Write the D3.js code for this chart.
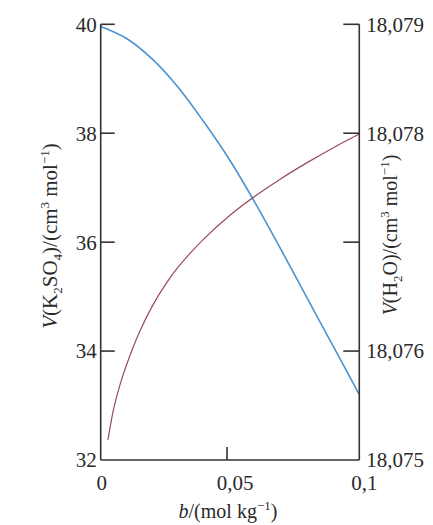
<!DOCTYPE html>
<html><head><meta charset="utf-8">
<script src="https://cdn.jsdelivr.net/npm/d3@7"></script>
<style>
html,body{margin:0;padding:0;background:#fff;}
svg text{font-family:"Liberation Serif","Times New Roman",Times,serif;fill:#2a2a2a;}
</style></head>
<body><svg id="c" width="433" height="525"></svg>
<script>
// b / (mol kg^-1)
const bluesB = [0, 0.01, 0.02, 0.03, 0.04, 0.05, 0.06, 0.07, 0.08, 0.09, 0.1];
// V(H2O) / (cm3 mol-1), right axis
const bluesV = [18.07898, 18.07887, 18.07868, 18.07842, 18.07810, 18.07775, 18.07735, 18.07692, 18.07648, 18.07604, 18.07560];
const redsB = [0.0028, 0.005, 0.0075, 0.01, 0.015, 0.02, 0.025, 0.03, 0.04, 0.05, 0.06, 0.07, 0.08, 0.09, 0.1];
// V(K2SO4) / (cm3 mol-1), left axis
const redsV = [32.37, 32.94, 33.39, 33.75, 34.35, 34.83, 35.22, 35.545, 36.065, 36.495, 36.855, 37.175, 37.465, 37.735, 37.985];

const xTicks = [0, 0.05, 0.1];
const xTickLabels = ["0", "0,05", "0,1"];
const leftTicks = [32, 34, 36, 38, 40];
const rightTicks = [18.075, 18.076, 18.077, 18.078, 18.079];
const rightTickLabels = ["18,075", "18,076", "", "18,078", "18,079"];

const svg = d3.select("#c");
const x = d3.scaleLinear().domain([0, 0.1]).range([100.7, 359.3]);
const yL = d3.scaleLinear().domain([32, 40]).range([460, 24.3]);
const yR = d3.scaleLinear().domain([18.075, 18.079]).range([460, 24.3]);

const axisColor = "#333";

// curves
const lineBlue = d3.line().x((d,i)=>x(bluesB[i])).y(d=>yR(d)).curve(d3.curveCatmullRom.alpha(0.5));
const lineRed = d3.line().x((d,i)=>x(redsB[i])).y(d=>yL(d)).curve(d3.curveCatmullRom.alpha(0.5));
svg.append("path").attr("d", lineBlue(bluesV)).attr("fill","none").attr("stroke","#4a93d2").attr("stroke-width",1.6);
svg.append("path").attr("d", lineRed(redsV)).attr("fill","none").attr("stroke","#9a4a5a").attr("stroke-width",1.2);

// axes frame
const g = svg.append("g").attr("stroke", axisColor).attr("stroke-width", 1.6);
g.append("line").attr("x1", x(0)).attr("x2", x(0)).attr("y1", yL(40)).attr("y2", yL(32));
g.append("line").attr("x1", x(0.1)).attr("x2", x(0.1)).attr("y1", yR(18.079)).attr("y2", yR(18.075));
g.append("line").attr("x1", x(0)).attr("x2", x(0.1)).attr("y1", yL(32)).attr("y2", yL(32));

// left ticks (inward)
leftTicks.forEach(v => {
  if (v !== 32) g.append("line").attr("x1", x(0)).attr("x2", x(0)+14).attr("y1", yL(v)).attr("y2", yL(v));
  svg.append("text").attr("x", x(0)-4).attr("y", yL(v)).attr("dy","0.35em")
    .attr("text-anchor","end").attr("font-size",21).text(v);
});
// right ticks (inward)
rightTicks.forEach((v,i) => {
  if (i !== 0) g.append("line").attr("x1", x(0.1)-16).attr("x2", x(0.1)).attr("y1", yR(v)).attr("y2", yR(v));
  if (rightTickLabels[i]) svg.append("text").attr("x", x(0.1)+7).attr("y", yR(v)).attr("dy","0.35em")
    .attr("text-anchor","start").attr("font-size",21).text(rightTickLabels[i]);
});
// x ticks
xTicks.forEach((v,i) => {
  if (v > 0 && v < 0.1) g.append("line").attr("x1", x(v)-3).attr("x2", x(v)-3).attr("y1", yL(32)).attr("y2", yL(32)-13);
  svg.append("text").attr("x", x(v) + (i===0?1:5)).attr("y", 490)
    .attr("text-anchor","middle").attr("font-size",21).text(xTickLabels[i]);
});

// x axis title
const xt = svg.append("text").attr("x", 228).attr("y", 518).attr("text-anchor","middle").attr("font-size",20);
xt.append("tspan").attr("font-style","italic").text("b");
xt.append("tspan").text("/(mol kg");
xt.append("tspan").attr("font-size",13).attr("dy",-8).text("−1");
xt.append("tspan").attr("dy",8).text(")");

function yTitle(sel, parts){
  parts.forEach(p => {
    const t = sel.append("tspan").text(p.t);
    if (p.i) t.attr("font-style","italic");
    if (p.sub) t.attr("font-size",13).attr("dy",5);
    if (p.sup) t.attr("font-size",13).attr("dy",-8);
    if (p.back) t.attr("dy",p.back);
  });
}
const lt = svg.append("text").attr("transform","translate(57,236) rotate(-90)").attr("text-anchor","middle").attr("font-size",21);
yTitle(lt, [{t:"V",i:1},{t:"(K"},{t:"2",sub:1},{t:"SO",back:-5},{t:"4",sub:1},{t:")/(cm",back:-5},{t:"3",sup:1},{t:" mol",back:8},{t:"−1",sup:1},{t:")",back:8}]);

const rt = svg.append("text").attr("transform","translate(397,235) rotate(-90)").attr("text-anchor","middle").attr("font-size",20);
yTitle(rt, [{t:"V",i:1},{t:"(H"},{t:"2",sub:1},{t:"O)/(cm",back:-5},{t:"3",sup:1},{t:" mol",back:8},{t:"−1",sup:1},{t:")",back:8}]);
</script>
</body></html>
